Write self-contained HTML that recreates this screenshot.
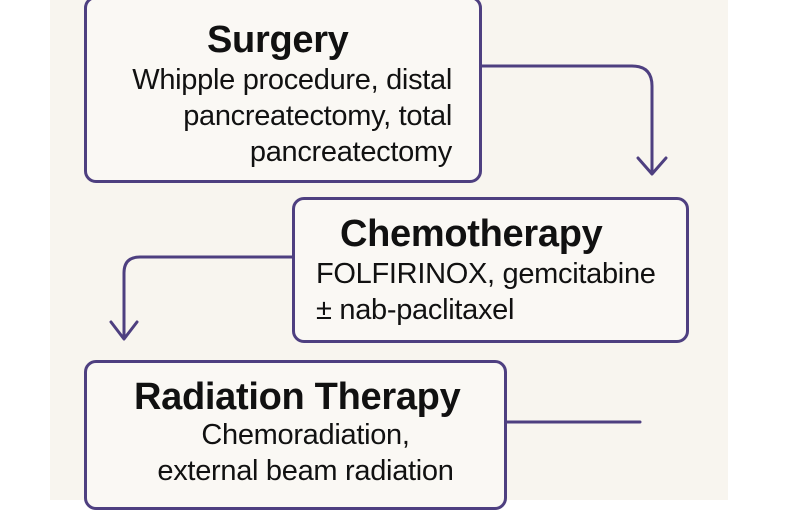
<!DOCTYPE html>
<html><head><style>
body{margin:0;width:800px;height:500px;background:#fff;position:relative;overflow:hidden;font-family:"Liberation Sans",sans-serif;color:#111}
.bg{position:absolute;left:50px;top:0;width:678px;height:500px;background:#f8f5ef}
.box{position:absolute;border:3px solid #4e3f80;border-radius:12px;background:#faf8f4;box-sizing:border-box}
.t{position:absolute;font-weight:bold;font-size:38px;white-space:nowrap;letter-spacing:-0.3px}
.d{position:absolute;font-size:29px;line-height:36px;white-space:nowrap;letter-spacing:-0.3px}
</style></head><body>
<div class="bg"></div>
<svg style="position:absolute;left:0;top:0" width="800" height="500">
<g fill="none" stroke="#4e3f80" stroke-width="3" stroke-linecap="round" stroke-linejoin="round">
<path d="M482 66 H632 Q652 66 652 86 V172"/>
<path d="M638 158 L652 174 L666 158"/>
<path d="M292 257 H140 Q124 257 124 273 V338"/>
<path d="M111 322 L124 339 L137 322"/>
<path d="M507 422 H640"/>
</g></svg>
<div class="box" style="left:84px;top:-4px;width:398px;height:187px"></div>
<div class="box" style="left:292px;top:197px;width:397px;height:146px"></div>
<div class="box" style="left:84px;top:360px;width:423px;height:150px"></div>
<div class="t" style="left:207px;top:19px">Surgery</div>
<div class="d" style="right:348px;top:62px;text-align:right">Whipple procedure, distal<br>pancreatectomy, total<br>pancreatectomy</div>
<div class="t" style="left:340px;top:213px">Chemotherapy</div>
<div class="d" style="left:316px;top:256px">FOLFIRINOX, gemcitabine<br>± nab-paclitaxel</div>
<div class="t" style="left:134px;top:376px">Radiation Therapy</div>
<div class="d" style="left:94px;width:423px;top:417px;text-align:center">Chemoradiation,<br>external beam radiation</div>
</body></html>
